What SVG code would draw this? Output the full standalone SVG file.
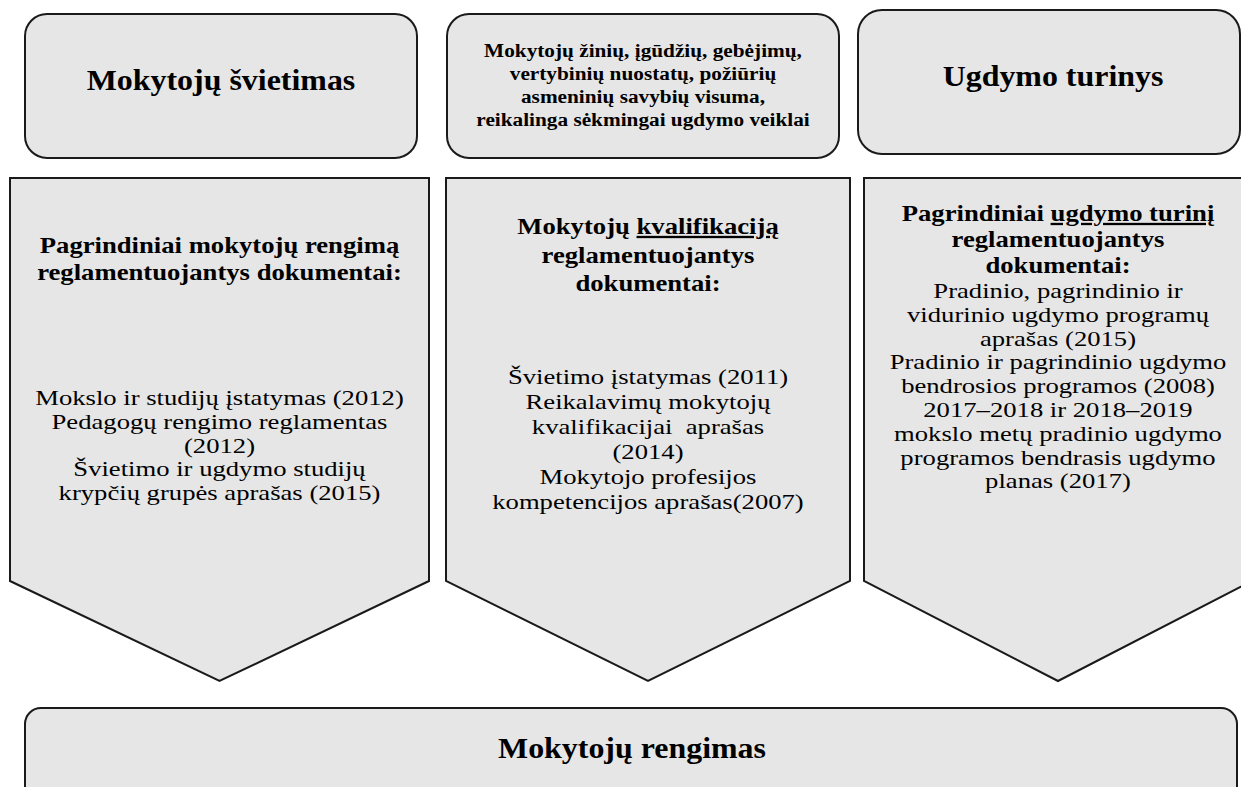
<svg xmlns="http://www.w3.org/2000/svg" width="1241" height="787" viewBox="0 0 1241 787">
<style>
.box{fill:#e6e6e6;stroke:#1a1a1a;stroke-width:2}
.t{font-family:"Liberation Serif","Times New Roman",serif;fill:#000;text-anchor:middle}
.b{font-weight:bold}
.big{font-size:28.5px}
.mid{font-size:19px}
.h{font-size:23px}
.r{font-size:21.5px}
.u{text-decoration:underline}
</style>
<rect width="1241" height="787" fill="#fff"/>
<g id="mokytoju-svietimas">
<rect class="box" x="25" y="14" width="392" height="144" rx="22"/>
<g transform="translate(221,0) scale(1.12,1)">
<text class="t b big" x="0" y="90">Mokytojų švietimas</text>
</g>
</g>
<g id="kompetencija">
<rect class="box" x="447" y="14" width="392" height="144" rx="22"/>
<g transform="translate(643,0) scale(1.12,1)">
<text class="t b mid" x="0" y="57">Mokytojų žinių, įgūdžių, gebėjimų,</text>
<text class="t b mid" x="0" y="80">vertybinių nuostatų, požiūrių</text>
<text class="t b mid" x="0" y="103">asmeninių savybių visuma,</text>
<text class="t b mid" x="0" y="126">reikalinga sėkmingai ugdymo veiklai</text>
</g>
</g>
<g id="ugdymo-turinys">
<rect class="box" x="858" y="10" width="382" height="144" rx="24"/>
<g transform="translate(1053,0) scale(1.12,1)">
<text class="t b big" x="0" y="86">Ugdymo turinys</text>
</g>
</g>
<g id="rengimo-dokumentai">
<path class="box" d="M10,178 H429 V581 L219.5,681 L10,581 Z"/>
<g transform="translate(219.5,0) scale(1.16,1)">
<text class="t b h" x="0" y="253">Pagrindiniai mokytojų rengimą</text>
<text class="t b h" x="0" y="280">reglamentuojantys dokumentai:</text>
</g>
<g transform="translate(219.5,0) scale(1.24,1)">
<text class="t r" x="0" y="405">Mokslo ir studijų įstatymas (2012)</text>
<text class="t r" x="0" y="428.8">Pedagogų rengimo reglamentas</text>
<text class="t r" x="0" y="452.6">(2012)</text>
<text class="t r" x="0" y="476.4">Švietimo ir ugdymo studijų</text>
<text class="t r" x="0" y="500.2">krypčių grupės aprašas (2015)</text>
</g>
</g>
<g id="kvalifikacijos-dokumentai">
<path class="box" d="M446,178 H850 V581 L648,681 L446,581 Z"/>
<g transform="translate(648,0) scale(1.16,1)">
<text class="t b h" x="0" y="234">Mokytojų <tspan class="u">kvalifikaciją</tspan></text>
<text class="t b h" x="0" y="263">reglamentuojantys</text>
<text class="t b h" x="0" y="291">dokumentai:</text>
</g>
<g transform="translate(648,0) scale(1.24,1)">
<text class="t r" x="0" y="384">Švietimo įstatymas (2011)</text>
<text class="t r" x="0" y="409">Reikalavimų mokytojų</text>
<text class="t r" x="0" y="434" xml:space="preserve">kvalifikacijai  aprašas</text>
<text class="t r" x="0" y="459">(2014)</text>
<text class="t r" x="0" y="484">Mokytojo profesijos</text>
<text class="t r" x="0" y="509">kompetencijos aprašas(2007)</text>
</g>
</g>
<g id="turinio-dokumentai">
<path class="box" d="M864,178 H1252 V581 L1058,681 L864,581 Z"/>
<g transform="translate(1058,0) scale(1.16,1)">
<text class="t b h" x="0" y="221">Pagrindiniai <tspan class="u">ugdymo turinį</tspan></text>
<text class="t b h" x="0" y="247">reglamentuojantys</text>
<text class="t b h" x="0" y="273">dokumentai:</text>
</g>
<g transform="translate(1058,0) scale(1.24,1)">
<text class="t r" x="0" y="298">Pradinio, pagrindinio ir</text>
<text class="t r" x="0" y="321.8">vidurinio ugdymo programų</text>
<text class="t r" x="0" y="345.6">aprašas (2015)</text>
<text class="t r" x="0" y="369.4">Pradinio ir pagrindinio ugdymo</text>
<text class="t r" x="0" y="393.2">bendrosios programos (2008)</text>
<text class="t r" x="0" y="417">2017–2018 ir 2018–2019</text>
<text class="t r" x="0" y="440.8">mokslo metų pradinio ugdymo</text>
<text class="t r" x="0" y="464.6">programos bendrasis ugdymo</text>
<text class="t r" x="0" y="488.4">planas (2017)</text>
</g>
</g>
<g id="mokytoju-rengimas">
<rect class="box" x="25" y="708" width="1212" height="110" rx="16"/>
<g transform="translate(632,0) scale(1.12,1)">
<text class="t b big" x="0" y="758">Mokytojų rengimas</text>
</g>
</g>
<g id="connectors"></g>
</svg>
